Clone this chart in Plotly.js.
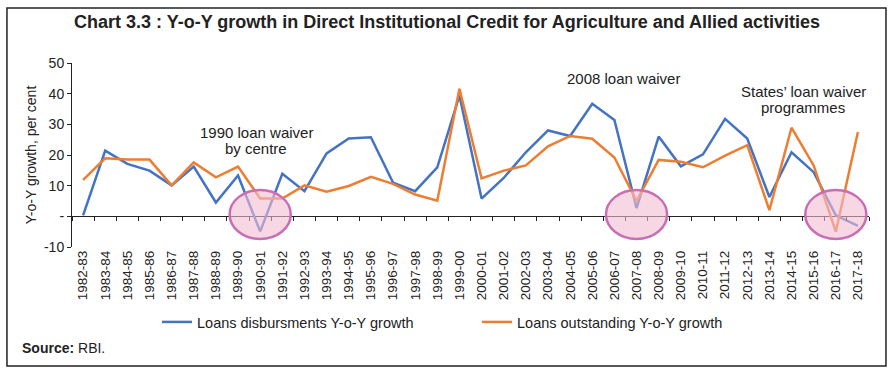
<!DOCTYPE html>
<html><head><meta charset="utf-8">
<script src="https://cdn.plot.ly/plotly-3.0.1.min.js"></script>
<style>html,body{margin:0;padding:0;background:#fff}#chart{width:894px;height:379px}</style>
</head><body><div id="chart"></div>
<script>
const categories = ['1982-83','1983-84','1984-85','1985-86','1986-87','1987-88','1988-89','1989-90','1990-91','1991-92','1992-93','1993-94','1994-95','1995-96','1996-97','1997-98','1998-99','1999-00','2000-01','2001-02','2002-03','2003-04','2004-05','2005-06','2006-07','2007-08','2008-09','2009-10','2010-11','2011-12','2012-13','2013-14','2014-15','2015-16','2016-17','2017-18'];
const disbursements = [0.3,21.4,17.1,14.9,10.1,16.2,4.5,13.3,-4.9,13.9,8.2,20.5,25.4,25.8,11.0,8.2,16.0,39.4,5.8,12.5,20.9,28.0,26.2,36.7,31.4,2.7,26.0,16.3,20.2,31.8,25.4,6.3,20.9,14.4,0.3,-3.1];
const outstanding = [11.9,18.9,18.5,18.5,10.1,17.6,12.7,16.2,5.8,5.8,10.1,8.0,9.9,12.9,10.6,7.1,5.1,41.6,12.4,14.9,16.6,22.8,26.2,25.3,19.2,5.0,18.4,17.8,16.0,19.8,23.2,2.0,28.9,16.6,-5.0,27.5];
const yTickValues = [-10,0,10,20,30,40,50];
const yTickLabels = ['-10','-','10','20','30','40','50'];
const waiverYears = ['1990-91','2007-08','2016-17'];
const seriesNames = ['Loans disbursments Y-o-Y growth','Loans outstanding Y-o-Y growth'];

const FONT = 'Liberation Sans, Arial, sans-serif';
const TXT = '#222';

const traces = [
  {x: categories, y: disbursements, name: seriesNames[0], type: 'scatter', mode: 'lines',
   line: {color: '#4472C4', width: 2.5}, hoverinfo: 'x+y'},
  {x: categories, y: outstanding, name: seriesNames[1], type: 'scatter', mode: 'lines',
   line: {color: '#ED7D31', width: 2.5}, hoverinfo: 'x+y'},
  {x: [], y: [], xaxis: 'x2', showlegend: false, hoverinfo: 'skip', type: 'scatter', mode: 'lines'}
];

const ellipses = waiverYears.map(function(c){
  const i = categories.indexOf(c);
  return {type: 'circle', xref: 'x', yref: 'y', x0: i - 1.38, x1: i + 1.38, y0: -7.4, y1: 8.6,
    fillcolor: 'rgba(243,188,210,0.6)', line: {color: '#c86eb4', width: 2.5}, layer: 'above'};
});

const shapes = ellipses.concat([
  {type: 'rect', xref: 'paper', yref: 'paper', x0: -0.0816, x1: 1.0213, y0: -0.6467, y1: 1.299,
   line: {color: '#222', width: 1.5}, fillcolor: 'rgba(0,0,0,0)', layer: 'below'}
]);

const annFont = {family: FONT, size: 15, color: TXT};
const annotations = [
  {text: '1990 loan waiver', x: 256, y: 132.7},
  {text: 'by centre', x: 256, y: 148.3},
  {text: '2008 loan waiver', x: 623.5, y: 78.3},
  {text: 'States\u2019 loan waiver', x: 803, y: 91.7},
  {text: 'programmes', x: 803, y: 107.7}
].map(function(a){
  return {text: a.text, xref: 'paper', yref: 'paper', x: (a.x - 72) / 797, y: (247 - a.y) / 184,
    xanchor: 'center', yanchor: 'middle', showarrow: false, font: annFont};
});
annotations.push({text: '<b>Source:</b> RBI.', xref: 'paper', yref: 'paper', x: (20 - 72) / 797, y: (247 - 348) / 184,
  xanchor: 'left', yanchor: 'middle', showarrow: false, font: {family: FONT, size: 14, color: TXT}});

const layout = {
  width: 894, height: 379,
  margin: {l: 72, r: 25, t: 63, b: 132},
  paper_bgcolor: '#fff', plot_bgcolor: 'rgba(0,0,0,0)',
  font: {family: FONT, color: TXT},
  title: {text: 'Chart 3.3 : Y-o-Y growth in Direct Institutional Credit for Agriculture and Allied activities',
    font: {family: FONT, size: 18, color: TXT, weight: 'bold'}, x: 0.5, xanchor: 'center',
    y: 1 - 22 / 379, yanchor: 'middle', yref: 'container'},
  xaxis: {type: 'category', range: [-0.5, categories.length - 0.5], tickangle: -90,
    showline: false, ticks: '', showgrid: false, zeroline: false, automargin: false,
    tickfont: {family: FONT, size: 13.5, color: TXT}},
  xaxis2: {overlaying: 'x', anchor: 'free', position: 10 / 60, type: 'linear',
    range: [-0.5, categories.length - 0.5], tickmode: 'linear', tick0: -0.5, dtick: 1,
    ticks: 'outside', ticklen: 4, tickcolor: '#222', showticklabels: false, showgrid: false,
    showline: false, zeroline: false},
  yaxis: {range: [-10, 50], tickmode: 'array', tickvals: yTickValues, ticktext: yTickLabels,
    ticks: 'outside', ticklen: 4, tickcolor: '#222', showline: true, linecolor: '#222', linewidth: 1,
    zeroline: true, zerolinecolor: '#222', zerolinewidth: 1, showgrid: false, automargin: false,
    tickfont: {family: FONT, size: 14, color: TXT},
    title: {text: 'Y-o-Y growth, per cent', font: {family: FONT, size: 14, color: TXT}, standoff: 4}},
  legend: {orientation: 'h', x: (157 - 72) / 797, xanchor: 'left', y: (247 - 322) / 184, yanchor: 'middle',
    font: {family: FONT, size: 14.5, color: TXT}, entrywidth: 275, entrywidthmode: 'pixels',
    bgcolor: 'rgba(0,0,0,0)'},
  shapes: shapes,
  annotations: annotations,
  showlegend: true
};

Plotly.newPlot('chart', traces, layout, {displayModeBar: false, staticPlot: true});
</script></body></html>
